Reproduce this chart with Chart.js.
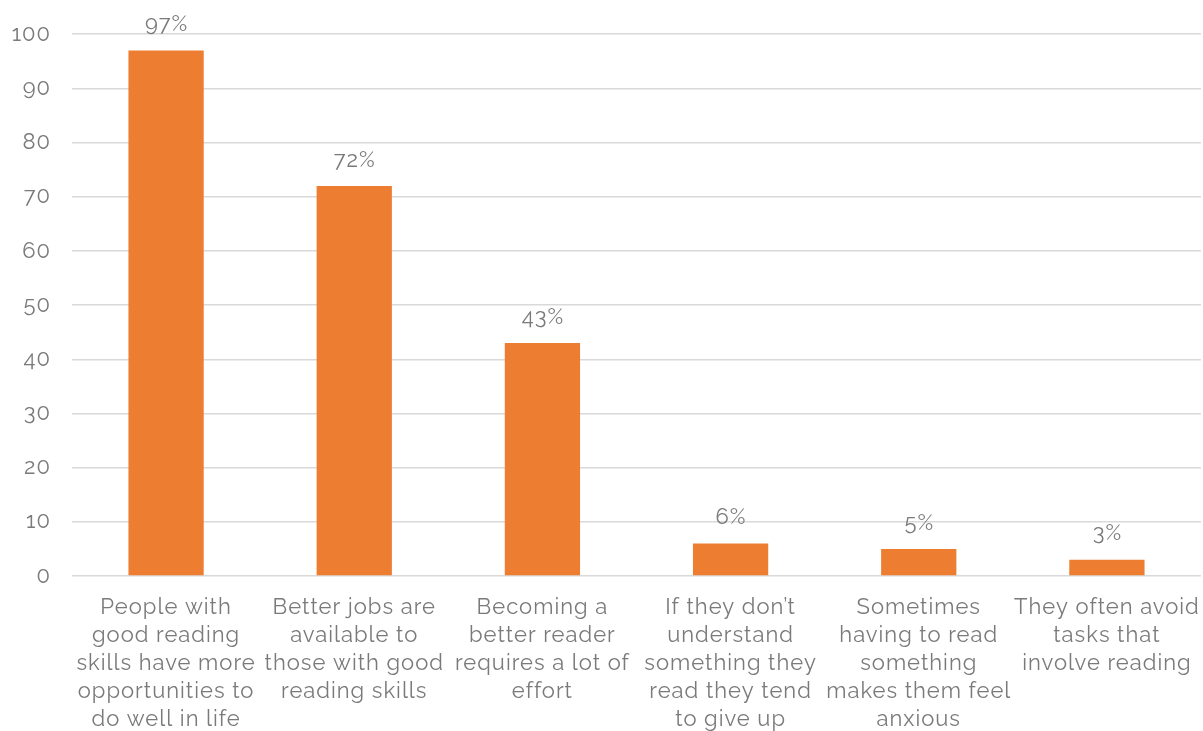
<!DOCTYPE html>
<html>
<head>
<meta charset="utf-8">
<script src="https://cdn.jsdelivr.net/npm/chart.js@4/dist/chart.umd.min.js"></script>
<style>
  html, body { margin: 0; padding: 0; background: #ffffff; }
  #wrap { width: 1203px; height: 731px; position: relative; }
</style>
</head>
<body>
<div id="wrap"><canvas id="chart"></canvas></div>
<script>
// Survey statements (each split into the lines shown under its bar)
const categories = [
  ["People with", "good reading", "skills have more", "opportunities to", "do well in life"],
  ["Better jobs are", "available to", "those with good", "reading skills"],
  ["Becoming a", "better reader", "requires a lot of", "effort"],
  ["If they don\u2019t", "understand", "something they", "read they tend", "to give up"],
  ["Sometimes", "having to read", "something", "makes them feel", "anxious"],
  ["They often avoid", "tasks that", "involve reading"]
];
// Share of respondents agreeing (%)
const agreeValues = [97, 72, 43, 6, 5, 3];
// Y axis range
const yTicks = { min: 0, max: 100, step: 10 };

const textColor = "#7a7a7a";
const fontFamily = "Raleway, 'Open Sans', sans-serif";

// Slightly open tracking for all chart text
const tracking = {
  id: "tracking",
  beforeLayout(chart) { chart.ctx.letterSpacing = "1px"; },
  beforeDraw(chart) { chart.ctx.letterSpacing = "1px"; }
};

// Draws the percentage above each bar
const valueLabels = {
  id: "valueLabels",
  afterDatasetsDraw(chart) {
    const ctx = chart.ctx;
    const meta = chart.getDatasetMeta(0);
    ctx.save();
    ctx.letterSpacing = "1px";
    ctx.font = "400 22px " + fontFamily;
    ctx.fillStyle = textColor;
    ctx.textAlign = "center";
    ctx.textBaseline = "middle";
    meta.data.forEach((bar, i) => {
      ctx.fillText(chart.data.datasets[0].data[i] + "%", bar.x + 0.5, bar.y - 26);
    });
    ctx.restore();
  }
};

new Chart(document.getElementById("chart"), {
  type: "bar",
  data: {
    labels: categories,
    datasets: [{
      data: agreeValues,
      backgroundColor: "#ed7d31",
      borderWidth: 0,
      barPercentage: 0.5,
      categoryPercentage: 0.8
    }]
  },
  options: {
    responsive: true,
    maintainAspectRatio: false,
    animation: false,
    layout: { padding: { top: 29, right: 2, left: 0, bottom: 0 } },
    plugins: {
      legend: { display: false },
      tooltip: { enabled: false }
    },
    scales: {
      x: {
        grid: { display: false, drawTicks: false },
        border: { display: false },
        ticks: {
          color: textColor,
          font: { family: fontFamily, size: 22, weight: 400, lineHeight: 1.273 },
          padding: 17,
          maxRotation: 0,
          minRotation: 0,
          autoSkip: false
        },
        afterFit(scale) {
          scale.height = 155;
          scale.paddingLeft = 0;
          scale.paddingRight = 0;
        }
      },
      y: {
        min: yTicks.min,
        max: yTicks.max,
        grid: { color: "#d9d9d9", lineWidth: 1.5, drawTicks: false },
        border: { display: false },
        ticks: {
          stepSize: yTicks.step,
          color: textColor,
          font: { family: fontFamily, size: 22, weight: 400 },
          padding: 21
        },
        afterFit(scale) { scale.width = 72; }
      }
    }
  },
  plugins: [tracking, valueLabels]
});
</script>
</body>
</html>
